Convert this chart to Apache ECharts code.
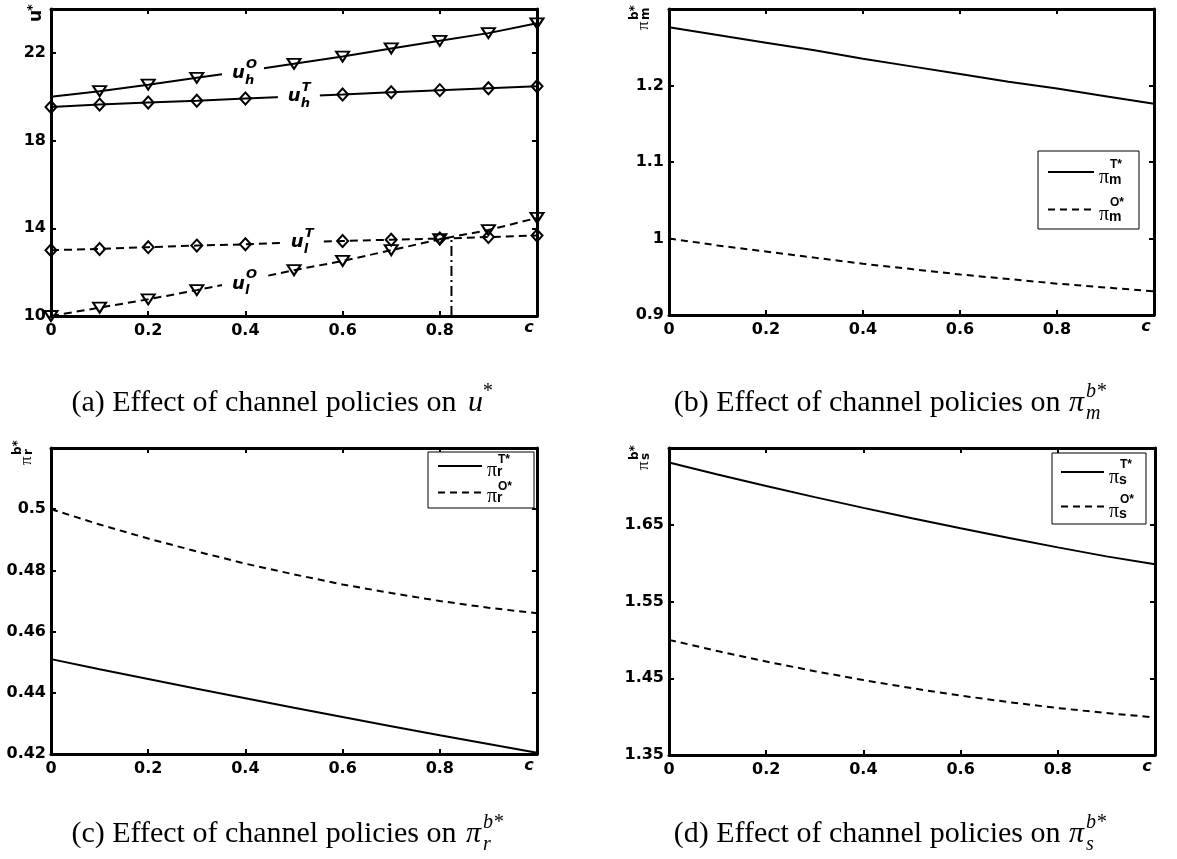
<!DOCTYPE html>
<html><head><meta charset="utf-8">
<script src="https://cdn.jsdelivr.net/npm/echarts@6/dist/echarts.min.js"></script>
<style>html,body{margin:0;padding:0;background:#fff}#c{width:1177px;height:859px}</style>
</head><body><div id="c"></div>
<script>
// ---------- data ----------
const cVals = [0, 0.1, 0.2, 0.3, 0.4, 0.5, 0.6, 0.7, 0.8, 0.9, 1];
// (a) u*
const uhO = [20.0, 20.25, 20.55, 20.86, 21.17, 21.5, 21.83, 22.2, 22.55, 22.9, 23.35];
const uhT = [19.53, 19.64, 19.74, 19.82, 19.92, 20.01, 20.1, 20.2, 20.3, 20.39, 20.48];
const ulT = [13.0, 13.06, 13.14, 13.21, 13.27, 13.35, 13.42, 13.48, 13.53, 13.6, 13.67];
const ulO = [10.0, 10.38, 10.76, 11.18, 11.62, 12.09, 12.51, 13.0, 13.5, 13.92, 14.47];
const crossX = [0.824, 0.824];
const crossY = [10, 13.57];
// (b) pi_m
const pimT = [1.276, 1.266, 1.256, 1.246, 1.235, 1.225, 1.215, 1.205, 1.196, 1.186, 1.176];
const pimO = [1.0, 0.991, 0.983, 0.975, 0.967, 0.96, 0.953, 0.947, 0.941, 0.936, 0.931];
// (c) pi_r
const pirT = [0.451, 0.4477, 0.4445, 0.4413, 0.4382, 0.4351, 0.4321, 0.4291, 0.4261, 0.4233, 0.4204];
const pirO = [0.5, 0.495, 0.4904, 0.4862, 0.4822, 0.4787, 0.4754, 0.4726, 0.47, 0.4678, 0.466];
// (d) pi_s
const pisT = [1.731, 1.7155, 1.7005, 1.686, 1.672, 1.6586, 1.6455, 1.6328, 1.6205, 1.6088, 1.5985];
const pisO = [1.5, 1.4854, 1.4718, 1.4592, 1.4476, 1.437, 1.4274, 1.4188, 1.4112, 1.4046, 1.399];
// ticks
const xTickLabels = ['0', '0.2', '0.4', '0.6', '0.8', 'c'];
const yTickA = ['10', '14', '18', '22'];
const yTickB = ['0.9', '1', '1.1', '1.2'];
const yTickC = ['0.42', '0.44', '0.46', '0.48', '0.5'];
const yTickD = ['1.35', '1.45', '1.55', '1.65'];
const yRangeA = [10, 24, 4];
const yRangeB = [0.9, 1.3, 0.1];
const yRangeC = [0.42, 0.52, 0.02];
const yRangeD = [1.35, 1.75, 0.1];

// ---------- layout ----------
const FONT = 'DejaVu Sans';
const grids = [
  {left: 51, top: 9, width: 486, height: 307},
  {left: 669, top: 9, width: 485, height: 306},
  {left: 51, top: 448, width: 486, height: 306},
  {left: 669, top: 448, width: 486, height: 307}
];
const yTicks = [yTickA, yTickB, yTickC, yTickD];
const yRanges = [yRangeA, yRangeB, yRangeC, yRangeD];

const lineAx = {show: true, onZero: false, lineStyle: {color: '#000', width: 3}};
const tickAx = {show: true, inside: true, length: 5, lineStyle: {color: '#000', width: 2}};

function axisX(i, pos, labels) {
  return {
    type: 'value', gridIndex: i, position: pos, min: 0, max: 1, interval: 0.2,
    axisLine: lineAx, axisTick: tickAx, splitLine: {show: false},
    axisLabel: {
      show: labels, margin: 7, color: '#000', fontFamily: FONT, fontWeight: 'bold', fontSize: 16,
      formatter: (v, idx) => { const t = xTickLabels[idx]; return t === 'c' ? '{c|c}' : (t == null ? '' : t); },
      rich: {c: {fontFamily: FONT, fontWeight: 'bold', fontStyle: 'italic', fontSize: 16, lineHeight: 10, padding: [0, 16, 0, 0], color: '#000'}}
    }
  };
}
function axisY(i, pos, labels) {
  const r = yRanges[i];
  return {
    type: 'value', gridIndex: i, position: pos, min: r[0], max: r[1], interval: r[2],
    axisLine: lineAx, axisTick: tickAx, splitLine: {show: false},
    axisLabel: {
      show: labels, margin: 5, color: '#000', fontFamily: FONT, fontWeight: 'bold', fontSize: 16,
      formatter: (v, idx) => { const t = yTicks[i][idx]; return t == null ? '' : t; }
    }
  };
}
const xAxes = [], yAxes = [];
grids.forEach((g, i) => {
  xAxes.push(axisX(i, 'bottom', true), axisX(i, 'top', false));
  yAxes.push(axisY(i, 'left', true), axisY(i, 'right', false));
});

function pts(ys) { return cVals.map((c, k) => [c, ys[k]]); }
function lineSeries(i, name, ys, dashed) {
  return {
    type: 'line', name: name, xAxisIndex: 2 * i, yAxisIndex: 2 * i, data: pts(ys),
    symbol: 'none', silent: true, z: 3,
    lineStyle: {color: '#000', width: 2, type: dashed ? [7, 5] : 'solid'},
    itemStyle: {color: '#000'}
  };
}
const openMarker = {color: 'rgba(0,0,0,0)', borderColor: '#000', borderWidth: 2};
function markerSeries(name, ys, dashed, sym, noFirst) {
  const d = pts(ys).map((p, k) => (noFirst && k === 0) ? {value: p, symbol: 'none'} : p);
  return {
    type: 'line', name: name, xAxisIndex: 0, yAxisIndex: 0, data: d, silent: true, z: 3,
    symbol: sym === 'tri' ? 'triangle' : 'diamond',
    symbolRotate: sym === 'tri' ? 180 : 0,
    symbolSize: sym === 'tri' ? [13, 10] : [11, 12],
    showAllSymbol: true,
    lineStyle: {color: '#000', width: 2, type: dashed ? [8, 5] : 'solid'},
    itemStyle: openMarker
  };
}

const series = [
  markerSeries('uhO', uhO, false, 'tri', true),
  markerSeries('uhT', uhT, false, 'dia', false),
  markerSeries('ulT', ulT, true, 'dia', false),
  markerSeries('ulO', ulO, true, 'tri', false),
  {type: 'line', name: 'cross', xAxisIndex: 0, yAxisIndex: 0, silent: true, z: 2, symbol: 'none',
   data: crossX.map((x, k) => [x, crossY[k]]), lineStyle: {color: '#000', width: 2, type: [10, 4, 2, 4]}},
  lineSeries(1, 'pmT', pimT, false), lineSeries(1, 'pmO', pimO, true),
  lineSeries(2, 'prT', pirT, false), lineSeries(2, 'prO', pirO, true),
  lineSeries(3, 'psT', pisT, false), lineSeries(3, 'psO', pisO, true)
];

const legendText = {
  pmT: ['T*', 'm'], pmO: ['O*', 'm'],
  prT: ['T*', 'r'], prO: ['O*', 'r'],
  psT: ['T*', 's'], psO: ['O*', 's']
};
function legRich(tight) {
  return {
    e: {width: 11, fontSize: 11, lineHeight: tight ? 9 : 11},
    sup: {fontSize: 12, fontWeight: 'bold', fontFamily: 'Liberation Sans', lineHeight: tight ? 9 : 11, color: '#000'},
    pi: {fontSize: 20, fontFamily: 'Liberation Serif', lineHeight: tight ? 12 : 14, color: '#000'},
    sub: {fontSize: 14, fontWeight: 'bold', fontFamily: 'Liberation Sans', lineHeight: tight ? 12 : 14, padding: [tight ? 3 : 5, 0, 0, 0], color: '#000'}
  };
}
function legend(names, left, top, itemWidth, itemGap, padding, tight) {
  return {
    orient: 'vertical', left: left, top: top, data: names, itemWidth: itemWidth, itemHeight: 14,
    itemGap: itemGap, padding: padding, borderColor: '#000', borderWidth: 1, borderRadius: 0,
    backgroundColor: '#fff', selectedMode: false,
    itemStyle: {opacity: 0, color: 'rgba(0,0,0,0)', borderWidth: 0},
    formatter: n => '{e| }{sup|' + legendText[n][0] + '}\n{pi|π}{sub|' + legendText[n][1] + '}',
    textStyle: {color: '#000', rich: legRich(tight)}
  };
}

const chart = echarts.init(document.getElementById('c'), null, {renderer: 'canvas'});
chart.setOption({
  animation: false,
  backgroundColor: '#fff',
  grid: grids.map(g => Object.assign({containLabel: false}, g)),
  xAxis: xAxes, yAxis: yAxes,
  legend: [
    legend(['pmT', 'pmO'], 1038, 151, 46, 9, [8, 15, 4, 9], false),
    legend(['prT', 'prO'], 428, 452, 44, 0, [2, 22, 1, 9], true),
    legend(['psT', 'psO'], 1052, 453, 43, 6, [6, 12, 2, 8], false)
  ],
  series: series
});

// ---------- annotations ----------
const SER = '"Liberation Serif"';
const ZT = 100;
function txt(text, x, y, font, align) {
  return {type: 'text', z: ZT + 1, style: {text: text, x: x, y: y, align: align || 'left', verticalAlign: 'middle', font: font, fill: '#000'}};
}
function curveLabel(dataPt, sup, sub) {
  const p = chart.convertToPixel({gridIndex: 0}, dataPt);
  return {
    type: 'group', x: p[0], y: p[1], z: ZT, children: [
      {type: 'rect', z: ZT, shape: {x: -21, y: -14, width: 42, height: 28}, style: {fill: '#fff'}},
      txt('u', -11, 1, 'italic bold 18px "DejaVu Sans"'),
      txt(sup, 3, -8, 'italic bold 13px "DejaVu Sans"'),
      txt(sub, 2, 8, 'italic bold 13px "DejaVu Sans"')
    ]
  };
}
function rotLabel(x, y, main, mainFont, sup, sub) {
  const kids = [txt(main, 0, 0, mainFont)];
  if (sup) kids.push(txt(sup, 10, -9, 'bold 12px "DejaVu Sans"'));
  if (sub) kids.push(txt(sub, 10, 2, 'bold 12px "DejaVu Sans"'));
  return {type: 'group', x: x, y: y, rotation: Math.PI / 2, z: ZT, children: kids};
}
function caption(xMain, xSym, y, text, sym, sup, sub) {
  const kids = [
    txt(text, xMain, y, '30px ' + SER, 'right'),
    txt(sym, xSym, y, 'italic 30px ' + SER),
    txt(sup, xSym + (sub ? 17 : 14), y - 11, 'italic 20px ' + SER)
  ];
  if (sub) kids.push(txt(sub, xSym + 17, y + 11, 'italic 20px ' + SER));
  return {type: 'group', z: ZT, children: kids};
}
const G = grids;
chart.setOption({
  graphic: [
    curveLabel([0.395, 21.09], 'O', 'h'),
    curveLabel([0.51, 20.05], 'T', 'h'),
    curveLabel([0.516, 13.41], 'T', 'l'),
    curveLabel([0.395, 11.5], 'O', 'l'),
    {type: 'group', x: G[0].left - 14, y: G[0].top + 13, rotation: Math.PI / 2, z: ZT, children: [
      txt('u', 0, 0, 'bold 17px "DejaVu Sans"'),
      txt('*', 11, -4, 'bold 13px "DejaVu Sans"')]},
    rotLabel(G[1].left - 25, G[1].top + 21, 'π', '17px ' + SER, 'b*', 'm'),
    rotLabel(G[2].left - 24, G[2].top + 17, 'π', '17px ' + SER, 'b*', 'r'),
    rotLabel(G[3].left - 25, G[3].top + 22, 'π', '17px ' + SER, 'b*', 's'),
    caption(464, 468, 403, '(a) Effect of channel policies on ', 'u', '*', null),
    caption(1068, 1069, 403, '(b) Effect of channel policies on ', 'π', 'b*', 'm'),
    caption(464, 466, 834, '(c) Effect of channel policies on ', 'π', 'b*', 'r'),
    caption(1068, 1069, 834, '(d) Effect of channel policies on ', 'π', 'b*', 's')
  ]
});
</script></body></html>
